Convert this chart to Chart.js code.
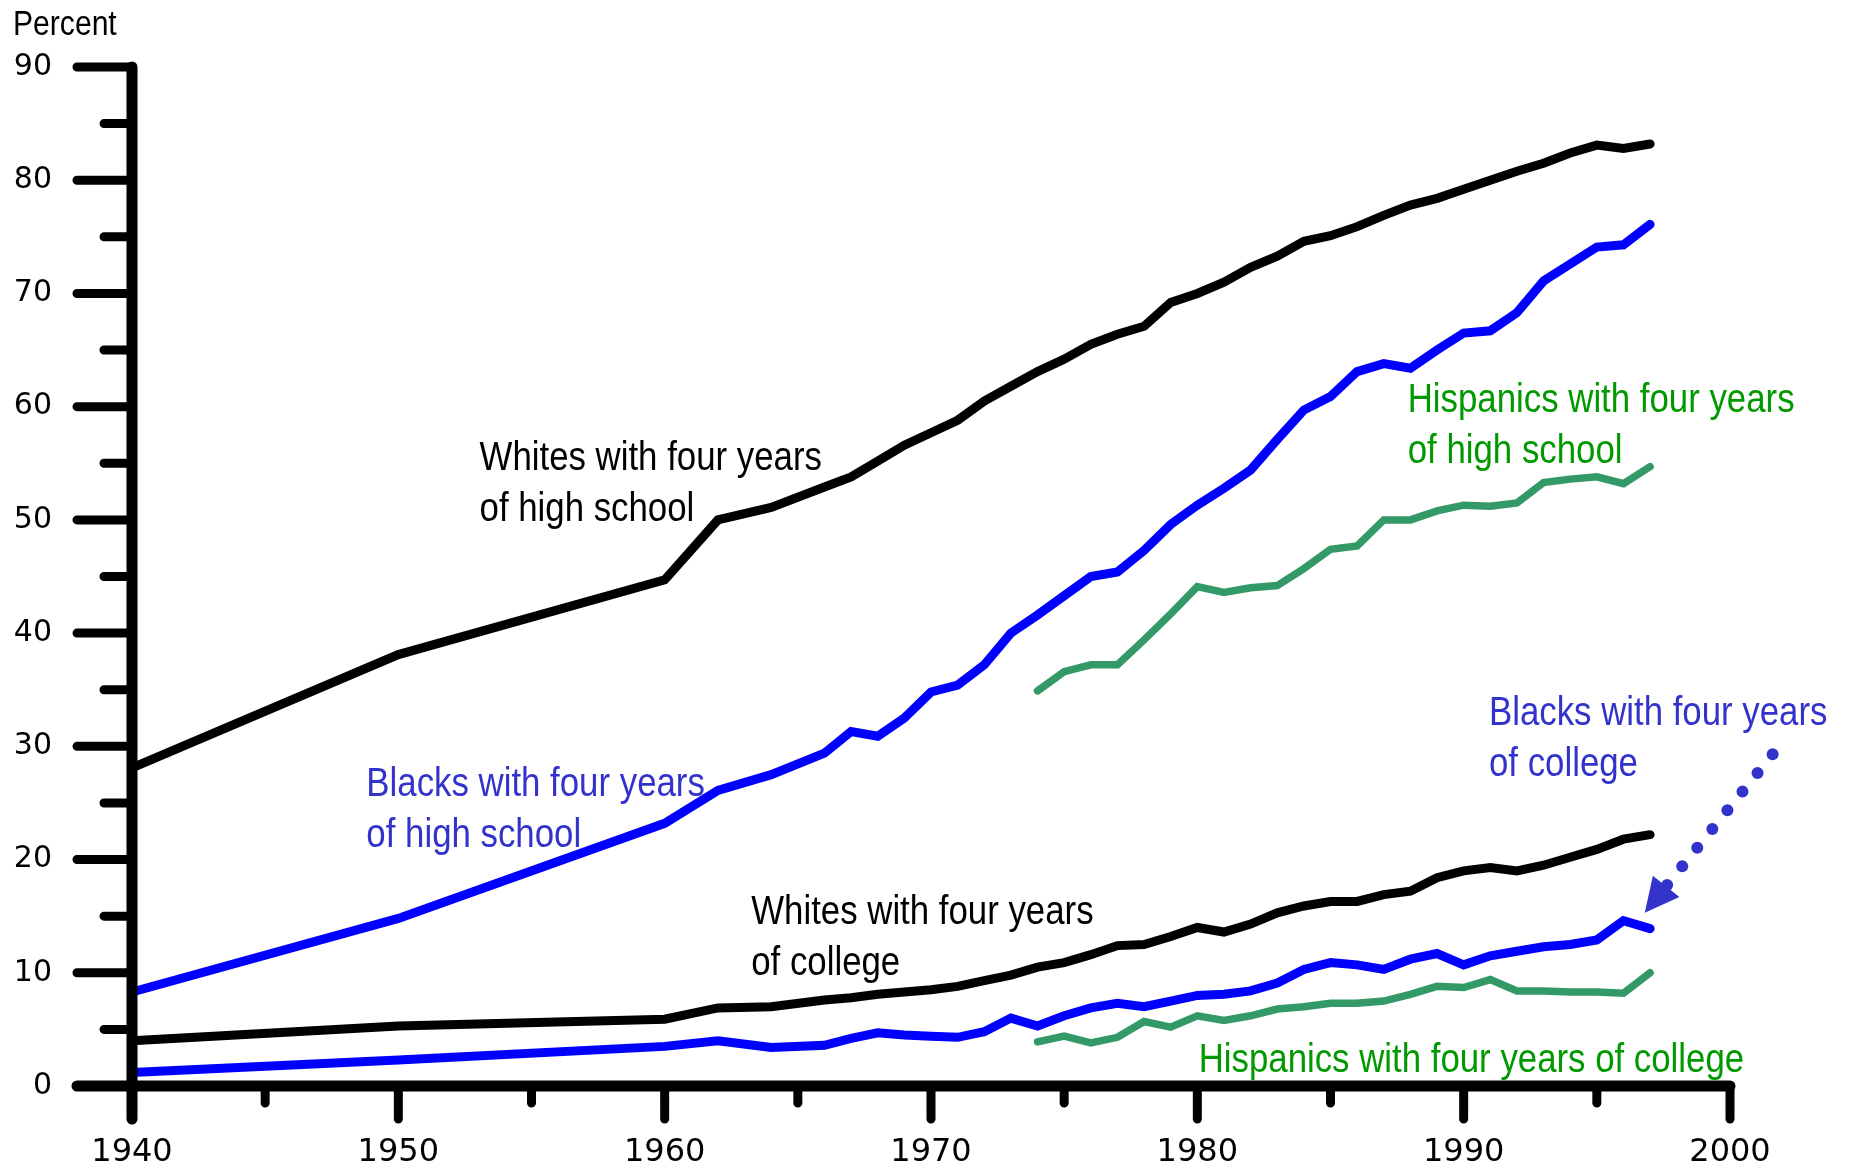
<!DOCTYPE html>
<html>
<head>
<meta charset="utf-8">
<title>Educational attainment by race</title>
<script src="https://cdn.jsdelivr.net/npm/chart.js@4.4.1/dist/chart.umd.min.js"></script>
<style>
  html, body { margin: 0; padding: 0; background: #fff; overflow: hidden; }
  canvas { display: block; }
</style>
</head>
<body>
<canvas id="chart" width="1849" height="1170"></canvas>
<script>
// Years with observations (the early decades are sparse)
const years = [1940, 1950, 1960, 1962, 1964, 1966, 1967, 1968, 1969, 1970,
  1971, 1972, 1973, 1974, 1975, 1976, 1977, 1978, 1979, 1980,
  1981, 1982, 1983, 1984, 1985, 1986, 1987, 1988, 1989, 1990,
  1991, 1992, 1993, 1994, 1995, 1996, 1997];

const whitesHighSchool = [28.1, 38.1, 44.7, 50.0, 51.1, 52.9, 53.8, 55.2, 56.6, 57.7,
  58.8, 60.5, 61.8, 63.1, 64.2, 65.5, 66.4, 67.1, 69.2, 70.0,
  71.0, 72.3, 73.3, 74.6, 75.1, 75.9, 76.9, 77.8, 78.4, 79.2,
  80.0, 80.8, 81.5, 82.4, 83.1, 82.8, 83.2];

const blacksHighSchool = [8.3, 14.8, 23.2, 26.1, 27.5, 29.4, 31.3, 30.9, 32.5, 34.8,
  35.4, 37.2, 40.0, 41.6, 43.3, 45.0, 45.4, 47.3, 49.6, 51.3,
  52.8, 54.4, 57.1, 59.7, 60.9, 63.1, 63.8, 63.4, 65.0, 66.5,
  66.7, 68.3, 71.1, 72.6, 74.1, 74.3, 76.1];

const hispanicsHighSchool = [null, null, null, null, null, null, null, null, null, null,
  null, null, null, 34.9, 36.6, 37.2, 37.2, 39.4, 41.7, 44.1,
  43.6, 44.0, 44.2, 45.7, 47.4, 47.7, 50.0, 50.0, 50.8, 51.3,
  51.2, 51.5, 53.3, 53.6, 53.8, 53.2, 54.7];

const whitesCollege = [4.0, 5.3, 5.9, 6.9, 7.0, 7.6, 7.8, 8.1, 8.3, 8.5,
  8.8, 9.3, 9.8, 10.5, 10.9, 11.6, 12.4, 12.5, 13.2, 14.0,
  13.6, 14.3, 15.3, 15.9, 16.3, 16.3, 16.9, 17.2, 18.4, 19.0,
  19.3, 19.0, 19.5, 20.2, 20.9, 21.8, 22.2];

const blacksCollege = [1.2, 2.3, 3.5, 4.0, 3.4, 3.6, 4.2, 4.7, 4.5, 4.4,
  4.3, 4.8, 6.0, 5.3, 6.2, 6.9, 7.3, 7.0, 7.5, 8.0,
  8.1, 8.4, 9.1, 10.3, 10.9, 10.7, 10.3, 11.2, 11.7, 10.7,
  11.5, 11.9, 12.3, 12.5, 12.9, 14.6, 13.9];

const hispanicsCollege = [null, null, null, null, null, null, null, null, null, null,
  null, null, null, 3.9, 4.4, 3.8, 4.3, 5.7, 5.2, 6.2,
  5.8, 6.2, 6.8, 7.0, 7.3, 7.3, 7.5, 8.1, 8.8, 8.7,
  9.4, 8.4, 8.4, 8.3, 8.3, 8.2, 10.0];

// Axis ranges and tick steps
const xRange = [1940, 2000];
const yRange = [0, 90];
const xTickStep = 10;
const yTickStep = 10;

const BLACK = '#000000';
const BLUE = '#0000ff';
const GREEN = '#339966';
const BLUE_TEXT = '#3333cc';
const GREEN_TEXT = '#009900';

// Text labels placed in data space: [year of left edge, value at first baseline]
const labels = [
  { lines: ['Whites with four years', 'of high school'], at: [1953.05, 54.4], color: BLACK },
  { lines: ['Blacks with four years', 'of high school'], at: [1948.8, 25.6], color: BLUE_TEXT },
  { lines: ['Hispanics with four years', 'of high school'], at: [1987.9, 59.5], color: GREEN_TEXT },
  { lines: ['Whites with four years', 'of college'], at: [1963.25, 14.3], color: BLACK },
  { lines: ['Blacks with four years', 'of college'], at: [1990.95, 31.9], color: BLUE_TEXT },
  { lines: ['Hispanics with four years of college'], at: [1980.05, 1.25], color: GREEN_TEXT }
];

// Dotted pointer from the "Blacks ... of college" label to its line
const pointerFrom = [2001.6, 29.3];
const pointerTo = [1996.8, 15.3];

function toPoints(values) {
  return years.map((yr, i) => ({ x: yr, y: values[i] }));
}

function series(values, color, width) {
  return {
    data: toPoints(values),
    borderColor: color,
    borderWidth: width,
    borderCapStyle: 'round',
    borderJoinStyle: 'miter',
    pointRadius: 0,
    fill: false,
    tension: 0,
    clip: false
  };
}

// no condensed face is installed, so squeeze Liberation Sans horizontally
function narrowText(ctx, text, px, py, size, squeeze) {
  ctx.save();
  ctx.translate(px, py);
  ctx.scale(squeeze, 1);
  ctx.font = size + 'px "Liberation Sans", Arial, sans-serif';
  ctx.fillText(text, 0, 0);
  ctx.restore();
}

// Draws the heavy axes with long/short ticks, the annotations and the pointer
const decorations = {
  id: 'decorations',
  afterDatasetsDraw(chart) {
    const { ctx, scales: { x, y } } = chart;
    const x0 = x.getPixelForValue(xRange[0]);
    const x1 = x.getPixelForValue(xRange[1]);
    const y0 = y.getPixelForValue(yRange[0]);
    const y1 = y.getPixelForValue(yRange[1]);

    ctx.save();
    ctx.strokeStyle = BLACK;
    ctx.lineCap = 'round';

    // tick marks
    ctx.lineWidth = 9;
    ctx.beginPath();
    for (let v = yRange[0]; v <= yRange[1]; v += yTickStep / 2) {
      const py = y.getPixelForValue(v);
      const len = v % yTickStep === 0 ? 55 : 28;
      ctx.moveTo(x0, py);
      ctx.lineTo(x0 - len, py);
    }
    for (let v = xRange[0]; v <= xRange[1]; v += xTickStep / 2) {
      const px = x.getPixelForValue(v);
      const len = v % xTickStep === 0 ? 33 : 17;
      ctx.moveTo(px, y0);
      ctx.lineTo(px, y0 + len);
    }
    ctx.stroke();

    // axis lines
    ctx.lineWidth = 11;
    ctx.beginPath();
    ctx.moveTo(x0, y1);
    ctx.lineTo(x0, y0 + 33);
    ctx.moveTo(x0 - 55, y0);
    ctx.lineTo(x1, y0);
    ctx.stroke();

    // axis title
    ctx.fillStyle = BLACK;
    ctx.textAlign = 'left';
    ctx.textBaseline = 'alphabetic';
    narrowText(ctx, 'Percent', 13, y1 - 32, 35, 0.86);

    // series labels
    labels.forEach((lab) => {
      ctx.fillStyle = lab.color;
      const lx = x.getPixelForValue(lab.at[0]);
      const ly = y.getPixelForValue(lab.at[1]);
      lab.lines.forEach((line, i) => narrowText(ctx, line, lx, ly + i * 51, 40, 0.87));
    });

    // dotted pointer with arrowhead
    const ax = x.getPixelForValue(pointerFrom[0]);
    const ay = y.getPixelForValue(pointerFrom[1]);
    const bx = x.getPixelForValue(pointerTo[0]);
    const by = y.getPixelForValue(pointerTo[1]);
    const dist = Math.hypot(bx - ax, by - ay);
    const ux = (bx - ax) / dist;
    const uy = (by - ay) / dist;
    ctx.fillStyle = BLUE_TEXT;
    for (let i = 0; i < 8; i++) {
      ctx.beginPath();
      ctx.arc(ax + ux * i * 24, ay + uy * i * 24, 6, 0, Math.PI * 2);
      ctx.fill();
    }
    const headLen = 34;
    const headHalf = 17;
    const hx = bx - ux * headLen;
    const hy = by - uy * headLen;
    ctx.beginPath();
    ctx.moveTo(bx, by);
    ctx.lineTo(hx - uy * headHalf, hy + ux * headHalf);
    ctx.lineTo(hx + uy * headHalf, hy - ux * headHalf);
    ctx.closePath();
    ctx.fill();

    ctx.restore();
  }
};

const ctx = document.getElementById('chart').getContext('2d');
new Chart(ctx, {
  type: 'line',
  data: {
    datasets: [
      series(whitesHighSchool, BLACK, 9),
      series(blacksHighSchool, BLUE, 9),
      series(hispanicsHighSchool, GREEN, 7.5),
      series(whitesCollege, BLACK, 9),
      series(blacksCollege, BLUE, 9),
      series(hispanicsCollege, GREEN, 7.5)
    ]
  },
  options: {
    responsive: false,
    devicePixelRatio: 1,
    animation: false,
    layout: { padding: { top: 67, right: 119, left: 0, bottom: 0 } },
    plugins: {
      legend: { display: false },
      tooltip: { enabled: false }
    },
    scales: {
      x: {
        type: 'linear',
        min: xRange[0],
        max: xRange[1],
        // hidden tick marks only push the labels away from the axis
        grid: { display: false, drawTicks: true, tickLength: 47 },
        border: { display: false },
        ticks: {
          stepSize: xTickStep,
          autoSkip: false,
          maxRotation: 0,
          padding: 0,
          color: BLACK,
          font: { family: 'DejaVu Sans', size: 32 },
          callback: (v) => String(v)
        },
        afterFit: (scale) => { scale.height = 84; }
      },
      y: {
        min: yRange[0],
        max: yRange[1],
        grid: { display: false, drawTicks: true, tickLength: 80 },
        border: { display: false },
        ticks: {
          stepSize: yTickStep,
          padding: 0,
          color: BLACK,
          font: { family: 'DejaVu Sans', size: 30 },
          callback: (v) => String(v)
        },
        afterFit: (scale) => { scale.width = 132; }
      }
    }
  },
  plugins: [decorations]
});
</script>
</body>
</html>
